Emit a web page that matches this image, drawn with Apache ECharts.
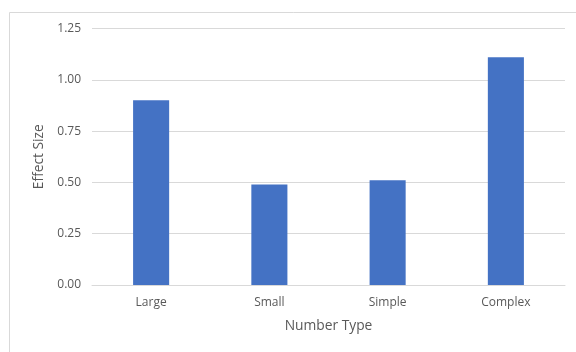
<!DOCTYPE html>
<html>
<head>
<meta charset="utf-8">
<script src="https://cdn.jsdelivr.net/npm/echarts@6/dist/echarts.min.js"></script>
<style>
  html, body { margin: 0; padding: 0; background: #ffffff; }
  #chart { width: 576px; height: 352px; }
</style>
</head>
<body>
<div id="chart"></div>
<script>
// Effect size by number type
const categories = ['Large', 'Small', 'Simple', 'Complex'];
const effectSizes = [0.90, 0.49, 0.51, 1.11];
const yTicks = [0, 0.25, 0.5, 0.75, 1.0, 1.25];

const textColor = '#595959';
const fontFamily = '"Open Sans", "Liberation Sans", sans-serif';

const chart = echarts.init(document.getElementById('chart'), null, { renderer: 'canvas' });
chart.setOption({
  animation: false,
  backgroundColor: '#ffffff',
  graphic: [{
    type: 'rect',
    shape: { x: 9.5, y: 12.5, width: 640, height: 400 },
    style: { fill: 'none', stroke: '#d9d9d9', lineWidth: 1 },
    silent: true
  }],
  grid: { left: 92, right: 11, top: 28.5, bottom: 67 },
  xAxis: {
    type: 'category',
    data: categories,
    name: 'Number Type',
    nameLocation: 'middle',
    nameGap: 34,
    nameTextStyle: { color: textColor, fontSize: 13.8, fontFamily },
    axisLine: { lineStyle: { color: '#d9d9d9' } },
    axisTick: { show: false },
    axisLabel: { color: textColor, fontSize: 12, fontFamily, margin: 12 }
  },
  yAxis: {
    type: 'value',
    min: yTicks[0],
    max: yTicks[yTicks.length - 1],
    interval: 0.25,
    name: 'Effect Size',
    nameLocation: 'middle',
    nameRotate: 90,
    nameGap: 45,
    nameTextStyle: { color: textColor, fontSize: 13.8, fontFamily },
    axisLine: { show: false },
    axisTick: { show: false },
    splitLine: { lineStyle: { color: '#d9d9d9' } },
    axisLabel: {
      color: textColor, fontSize: 12, fontFamily, margin: 11,
      formatter: v => v.toFixed(2)
    }
  },
  series: [{
    type: 'bar',
    data: effectSizes,
    barWidth: '30.5%',
    itemStyle: { color: '#4472c4' }
  }]
});
</script>
</body>
</html>
